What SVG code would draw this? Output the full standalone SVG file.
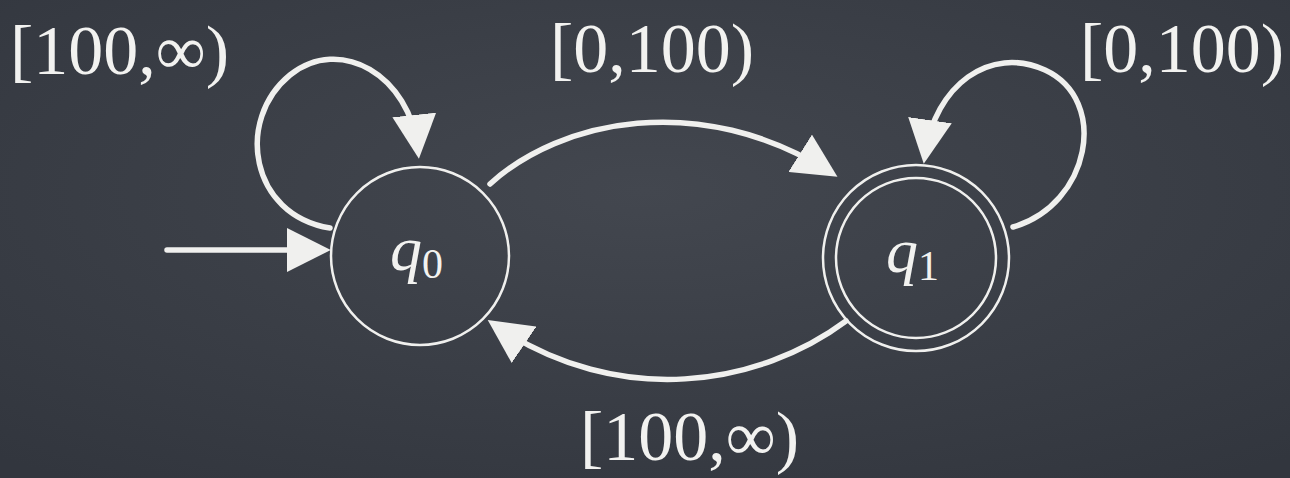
<svg xmlns="http://www.w3.org/2000/svg" width="1290" height="478" viewBox="0 0 1290 478">
<defs>
<radialGradient id="bg" cx="50%" cy="40%" r="75%">
<stop offset="0" stop-color="#43474f"/>
<stop offset="1" stop-color="#32363e"/>
</radialGradient>
<marker id="ah" viewBox="0 0 10 10" refX="8" refY="5" markerWidth="8" markerHeight="8" markerUnits="strokeWidth" orient="auto">
<path d="M0,0 L10,5 L0,10 Z" fill="#f0f0ee"/>
</marker>
<style>
.lbl{font-family:"Liberation Serif","Times New Roman",serif;font-size:70px;fill:#f2f2f0}
.st{font-family:"Liberation Serif","Times New Roman",serif;font-style:italic;font-size:64px;fill:#f2f2f0}
.sub{font-style:normal;font-size:42px}
.node{fill:none;stroke:#f0f0ee;stroke-width:2.5}
.edge{fill:none;stroke:#f0f0ee;stroke-width:5.5;stroke-linecap:round;marker-end:url(#ah)}
</style>
</defs>
<rect width="1290" height="478" fill="url(#bg)"/>
<g id="q0">
<circle class="node" cx="420" cy="256" r="89"/>
<text class="st" x="390" y="270">q<tspan class="sub" dy="8">0</tspan></text>
</g>
<g id="q1">
<circle class="node" cx="916" cy="258" r="93"/>
<circle class="node" cx="916" cy="258" r="80"/>
<text class="st" x="886" y="272">q<tspan class="sub" dy="8">1</tspan></text>
</g>
<g id="connectors">
<path class="edge" d="M167,250 L322,250"/>
<path class="edge" d="M330,228 C250,215 235,120 290,75 C340,35 410,75 418,150"/>
<path class="edge" d="M490,184 C560,120 700,90 830,172"/>
<path class="edge" d="M1013,227 C1090,205 1110,100 1045,70 C990,45 935,85 925,155"/>
<path class="edge" d="M846,321 C760,385 620,410 495,325"/>
</g>
<g id="labels">
<text class="lbl" x="10" y="74">[100,∞)</text>
<text class="lbl" x="550" y="72">[0,100)</text>
<text class="lbl" x="1080" y="72">[0,100)</text>
<text class="lbl" x="580" y="460">[100,∞)</text>
</g>
</svg>
